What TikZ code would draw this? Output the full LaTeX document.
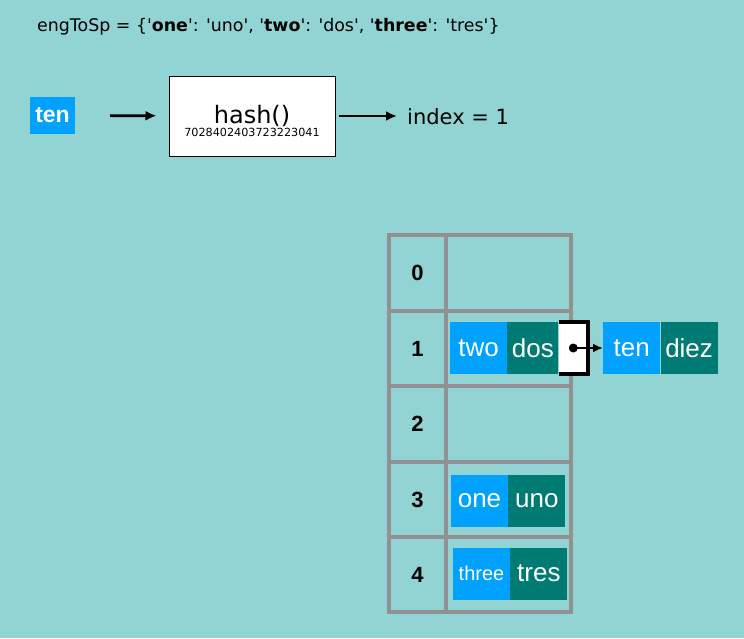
\documentclass[tikz,border=0pt]{standalone}
\usepackage{fontspec}
\setmainfont{Liberation Sans}
\newfontfamily\grande{DejaVu Sans}
\usetikzlibrary{positioning}
\usetikzlibrary{arrows.meta}
\definecolor{bgteal}{RGB}{146,212,212}
\definecolor{keyblue}{RGB}{0,161,255}
\definecolor{valteal}{RGB}{0,123,115}
\definecolor{gridgray}{RGB}{145,145,145}

\begin{document}
\begin{tikzpicture}[x=1pt,y=-1pt,
  key/.style={fill=keyblue, text=white, minimum width=57pt, minimum height=52pt,
    inner sep=0pt, font=\fontsize{26}{26}\selectfont},
  val/.style={key, fill=valteal},
  idx/.style={font=\fontsize{22}{22}\selectfont\bfseries},
  arr/.style={-{Latex[length=11pt,width=10pt]}, line width=2.8pt}]

\fill[bgteal] (0,0) rectangle (744,638);
\useasboundingbox (0,0) rectangle (744,638);

% top line
\node[anchor=base west, inner sep=0pt, font=\grande\fontsize{17.4}{17.4}\selectfont] (dict) at (37,31)
{engToSp = \{'\textbf{one}': 'uno', '\textbf{two}': 'dos', '\textbf{three}': 'tres'\}};

% hashing ten
\node[key, minimum width=45pt, minimum height=37pt, font=\fontsize{23}{23}\selectfont\bfseries] (ten) at (52.5,115.5) {ten};
\node[draw, fill=white, line width=1pt, minimum width=166pt, minimum height=80pt] (hash) at (252,116) {};
\node[anchor=base, inner sep=0pt, font=\grande\fontsize{24}{24}\selectfont] (hashtxt) at (252,123) {hash()};
\node[anchor=base, inner sep=0pt, font=\grande\fontsize{11.2}{11.2}\selectfont] (hashnum) at (252,136) {7028402403723223041};
\node[anchor=base west, inner sep=0pt, font=\grande\fontsize{21}{21}\selectfont] (index) at (407,124.5) {index = 1};

\draw[arr, shorten <=35pt, shorten >=12pt] (ten) -- (hash);
\draw[arr, shorten <=3pt, shorten >=10pt] (hash) -- (index.west |- hash);

% table
{
\draw[gridgray, line width=4pt] (389,235) rectangle (571,612);
\draw[gridgray, line width=4pt] (446,235) -- (446,612);
\foreach \y in {311,386,462,537}
  \draw[gridgray, line width=4pt] (389,\y) -- (571,\y);
}

\foreach \i/\y in {0/273,1/349,2/424,3/500,4/575}
  \node[idx] (i\i) at (417.5,\y) {\i};

% bucket 1
\node[key, minimum width=57pt] (two) at (478.5,348) {two};
\node[val, minimum width=51pt, right=0pt of two] (dos) {dos};
\node[fill=white, minimum width=29pt, minimum height=52pt, inner sep=0pt, right=0pt of dos] (ptr) {};
\draw[line width=3.5pt] (ptr.north west) -- (ptr.north east) -- (ptr.south east) -- (ptr.south west);
\fill (ptr.center) circle [radius=4.5];
\node[key, minimum width=57pt, right=15pt of ptr] (ten2) {ten};
\node[val, minimum width=57pt, right=0pt of ten2] (diez) {diez};
\draw[arr, line width=2.6pt, -{Latex[length=10pt,width=9pt]}] (ptr.center) -- (ten2.west);

% bucket 3
\node[key] (one) at (479.5,500.5) {one};
\node[val, right=0pt of one] (uno) {uno};

% bucket 4
\node[key, font=\fontsize{20}{20}\selectfont] (three) at (481.5,573.5) {three};
\node[val, right=0pt of three] (tres) {tres};

\end{tikzpicture}
\end{document}
